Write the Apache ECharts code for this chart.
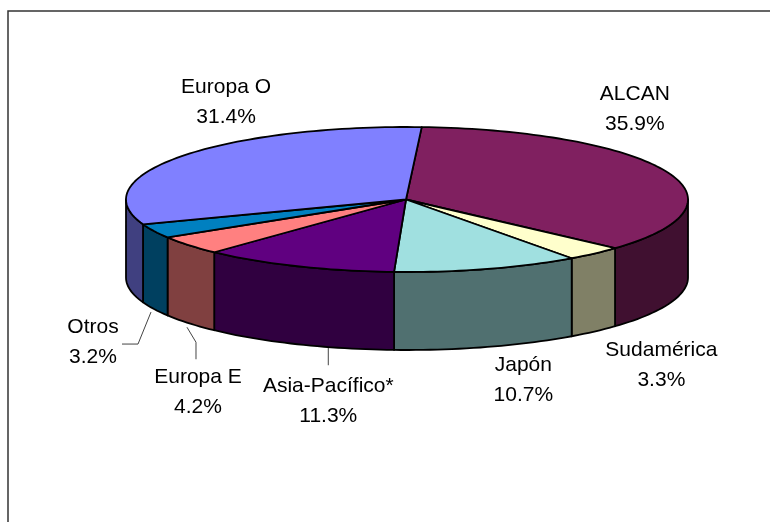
<!DOCTYPE html>
<html>
<head>
<meta charset="utf-8">
<style>html,body{margin:0;padding:0;background:#fff}#main{width:770px;height:522px}</style>
<script src="https://cdn.jsdelivr.net/npm/echarts@6/dist/echarts.min.js"></script>
</head>
<body>
<div id="main"></div>
<script>
// Market share by region, drawn clockwise from the top of the disc
const regions = ['ALCAN', 'Sudamérica', 'Japón', 'Asia-Pacífico*', 'Europa E', 'Otros', 'Europa O'];
const shares = [35.9, 3.3, 10.7, 11.3, 4.2, 3.2, 31.4];
const topColors = ['#802060', '#FFFFCC', '#A0E0E0', '#600080', '#FF8080', '#0080C0', '#8080FF'];
const wallColors = ['#401030', '#808066', '#507070', '#300040', '#804040', '#004060', '#404080'];

// Disc geometry in pixels and first-slice rotation in degrees
const disc = { cx: 407, cy: 199.5, rx: 281, ry: 72.5, depth: 78, startDeg: 3 };

// Label centre offset from each slice's rim midpoint, and the optional leader path
const labelOffsets = [[-32, -63], [67, 112], [36, 111], [31, 135], [9, 147], [-61, 111], [45, -54]];
const leaderPaths = [null, null, null,
  [[31, 3], [31, 21]],
  [[-2, 4], [7, 19], [7, 36]],
  [[-3, 3], [-16, 35], [-32, 35]],
  null];

const total = shares.reduce((a, b) => a + b, 0);
const startAngles = [];
shares.reduce((acc, v, i) => {
  startAngles[i] = acc;
  return acc + v / total * 360;
}, disc.startDeg);

function rim(deg, drop) {
  const t = deg * Math.PI / 180;
  return [disc.cx + disc.rx * Math.sin(t), disc.cy - disc.ry * Math.cos(t) + (drop || 0)];
}
function arc(a0, a1, drop) {
  const pts = [];
  const n = Math.max(2, Math.ceil(Math.abs(a1 - a0) / 1.5));
  for (let i = 0; i <= n; i++) pts.push(rim(a0 + (a1 - a0) * i / n, drop));
  return pts;
}
const edge = { stroke: '#000', lineWidth: 1.8, lineJoin: 'round' };

function renderSlice(params, api) {
  const i = params.dataIndex;
  const value = api.value(0);
  const a0 = startAngles[i];
  const a1 = a0 + value / total * 360;
  const mid = (a0 + a1) / 2;
  const children = [];

  // Only the near half of the cylinder wall (90° to 270°) faces the viewer
  const w0 = Math.max(a0, 90), w1 = Math.min(a1, 270);
  if (w1 > w0) {
    children.push({
      type: 'polygon', z2: 1,
      shape: { points: arc(w0, w1, 0).concat(arc(w1, w0, disc.depth)) },
      style: Object.assign({ fill: wallColors[i] }, edge)
    });
  }
  children.push({
    type: 'polygon', z2: 2,
    shape: { points: [[disc.cx - 1, disc.cy]].concat(arc(a0, a1, 0)) },
    style: Object.assign({ fill: topColors[i] }, edge)
  });

  const anchor = rim(mid, 0);
  const off = labelOffsets[i];
  const leader = leaderPaths[i];
  if (leader) {
    const base = rim(mid, disc.depth);
    children.push({
      type: 'polyline', z2: 0,
      shape: { points: leader.map(p => [base[0] + p[0], base[1] + p[1]]) },
      style: { fill: null, stroke: '#444', lineWidth: 1 }
    });
  }
  children.push({
    type: 'text', z2: 3,
    x: anchor[0] + off[0], y: anchor[1] + off[1],
    style: {
      text: regions[i] + '\n' + value.toFixed(1) + '%',
      font: '21px "Liberation Sans", Arial, sans-serif',
      lineHeight: 30, fill: '#000', align: 'center', verticalAlign: 'middle'
    }
  });
  return { type: 'group', children };
}

const chart = echarts.init(document.getElementById('main'), null, { renderer: 'canvas' });
chart.setOption({
  animation: false,
  backgroundColor: '#fff',
  graphic: [{
    type: 'polyline', silent: true,
    shape: { points: [[8, 522], [8, 11], [770, 11]] },
    style: { fill: null, stroke: '#333', lineWidth: 1.5 }
  }],
  series: [{
    type: 'custom',
    coordinateSystem: 'none',
    renderItem: renderSlice,
    data: shares.map((v, i) => ({ name: regions[i], value: [v] }))
  }]
});
</script>
</body>
</html>
